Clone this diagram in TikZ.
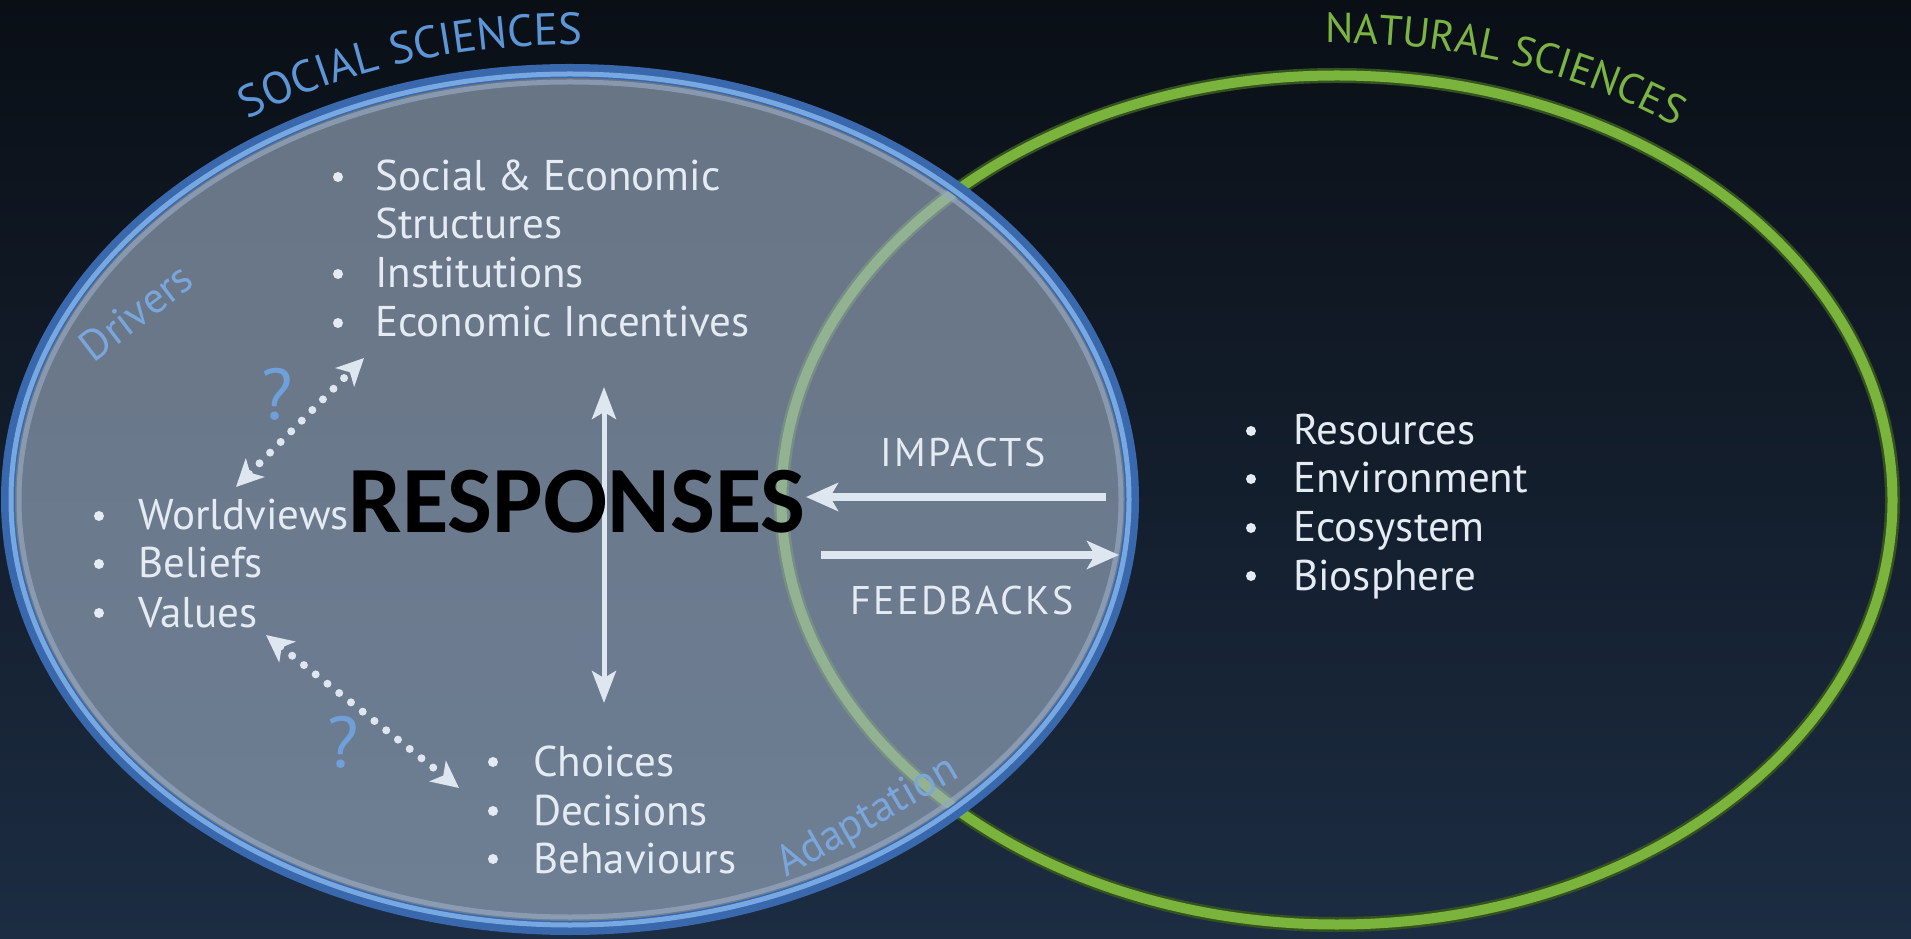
\documentclass[tikz,border=0pt]{standalone}
\usepackage{fontspec}
\setmainfont{PT Sans}
\newfontfamily\respfont{Carlito}
\newfontfamily\flowfont{PT Sans}[LetterSpace=6]
\usetikzlibrary{arrows.meta,decorations.text}
\definecolor{bgtop}{RGB}{10,15,22}
\definecolor{bgbot}{RGB}{28,44,66}
\definecolor{socfill}{RGB}{161,178,199}
\definecolor{socring}{RGB}{58,104,172}
\definecolor{socringlt}{RGB}{120,168,226}
\definecolor{socpale}{RGB}{150,168,192}
\definecolor{natring}{RGB}{122,180,60}
\definecolor{natdark}{RGB}{52,82,32}
\definecolor{txt}{RGB}{228,235,243}
\definecolor{socblue}{RGB}{92,150,214}
\definecolor{natgreen}{RGB}{124,180,68}
\definecolor{qblue}{RGB}{112,160,218}
\definecolor{sidelbl}{RGB}{122,166,220}
\definecolor{arr}{RGB}{222,230,240}
\begin{document}
\begin{tikzpicture}[x=1pt,y=1pt,
  itemtxt/.style={text=txt,inner sep=0,anchor=base west,font=\fontsize{43}{49}\selectfont},
  bul/.style={circle,fill=txt,inner sep=0,minimum size=10},
  flowlbl/.style={text=txt,inner sep=0,anchor=base,font=\flowfont\fontsize{40}{40}\selectfont},
  bigarrow/.style={arr,line width=8,-{Stealth[length=32,width=28,inset=8]}},
  vertarrow/.style={arr,line width=5,{Stealth[length=32,width=24,inset=7]}-{Stealth[length=32,width=24,inset=7]}},
  dotarrow/.style={arr,line width=8,line cap=round,dash pattern=on 0pt off 15pt,
     {Stealth[length=27,width=26,inset=7]}-{Stealth[length=27,width=26,inset=7]}},
  qmark/.style={text=qblue,inner sep=0,font=\fontsize{72}{72}\selectfont},
  sidetxt/.style={text=sidelbl,inner sep=0,font=\fontsize{43}{43}\selectfont}
]
\useasboundingbox (0,0) rectangle (1911,938);
\shade[top color=bgtop,bottom color=bgbot] (0,0) rectangle (1911,938);

\coordinate (soc) at (570,438.5);
\coordinate (nat) at (1337,438);

% natural sciences ring
\draw[natdark,line width=15] (nat) ellipse [x radius=555.5,y radius=424.5];
\draw[natring,line width=10] (nat) ellipse [x radius=555.5,y radius=424.5];

% social sciences disc
\fill[socfill,opacity=0.62] (soc) ellipse [x radius=562,y radius=428.5];
\draw[socpale,line width=5,opacity=0.7] (soc) ellipse [x radius=551,y radius=417.5];
\draw[socring,line width=14] (soc) ellipse [x radius=562,y radius=428.5];
\draw[socringlt,line width=5] (soc) ellipse [x radius=559,y radius=425.5];

% curved titles
\path[decorate,decoration={text along path,text align=center,text color=socblue,
  text={|\fontsize{45}{45}\selectfont|SOCIAL SCIENCES}}]
  (soc) ++(144:588 and 454.5) arc[start angle=144,end angle=70,x radius=588,y radius=454.5];
\path[decorate,decoration={text along path,text align=center,text color=natgreen,
  text={|\fontsize{42}{42}\selectfont|NATURAL SCIENCES}}]
  (nat) ++(109:588 and 457) arc[start angle=109,end angle=35,x radius=588,y radius=457];

% side labels
\node[sidetxt,rotate=37.5] (drivers) at (136,626) {Drivers};
\node[sidetxt,rotate=30] (adapt) at (868,120) {Adaptation};

% top list
\node[bul] (b11) at (338,761) {};
\node[itemtxt] (t11) at (375,747) {Social \& Economic};
\node[itemtxt] (t12) at (375,699) {Structures};
\node[bul] (b13) at (338,664) {};
\node[itemtxt] (t13) at (375,650) {Institutions};
\node[bul] (b14) at (338,615) {};
\node[itemtxt] (t14) at (375,601) {Economic Incentives};

% left list
\node[bul] (b21) at (99,422) {};
\node[itemtxt] (t21) at (138,408) {Worldviews};
\node[bul] (b22) at (99,374) {};
\node[itemtxt] (t22) at (138,360) {Beliefs};
\node[bul] (b23) at (99,325) {};
\node[itemtxt] (t23) at (138,311) {Values};

% bottom list
\node[bul] (b31) at (493,176) {};
\node[itemtxt] (t31) at (533,162) {Choices};
\node[bul] (b32) at (493,127) {};
\node[itemtxt] (t32) at (533,113) {Decisions};
\node[bul] (b33) at (493,79) {};
\node[itemtxt] (t33) at (533,65) {Behaviours};

% right list
\node[bul] (b41) at (1251,507) {};
\node[itemtxt] (t41) at (1293,493) {Resources};
\node[bul] (b42) at (1251,459) {};
\node[itemtxt] (t42) at (1293,445) {Environment};
\node[bul] (b43) at (1251,410) {};
\node[itemtxt] (t43) at (1293,396) {Ecosystem};
\node[bul] (b44) at (1251,362) {};
\node[itemtxt] (t44) at (1293,348) {Biosphere};

% flow labels
\node[flowlbl] (imp) at (963,471) {IMPACTS};
\node[flowlbl] (fb) at (962,324) {FEEDBACKS};

% arrows
\coordinate (impR) at (1106,441);
\coordinate (impL) at (806,441);
\coordinate (fbL) at (821,383);
\coordinate (fbR) at (1119,383);
\draw[bigarrow] (impR) -- (impL);
\draw[bigarrow] (fbL) -- (fbR);

\coordinate (vTop) at (604,551);
\coordinate (vBot) at (604,235);
\draw[vertarrow] (vTop) -- (vBot);

\coordinate (d1a) at (236,451);
\coordinate (d1b) at (364,580);
\coordinate (d2a) at (266,303);
\coordinate (d2b) at (459,150);
\draw[dotarrow] (d1a) -- (d1b);
\draw[dotarrow] (d2a) -- (d2b);

\node[qmark] (q1) at (277,544) {?};
\node[qmark] (q2) at (343,196) {?};

% main label
\node[inner sep=0,anchor=base,text=black,font=\respfont\bfseries\fontsize{95}{95}\selectfont] (resp) at (577,405) {RESPONSES};
\end{tikzpicture}
\end{document}
